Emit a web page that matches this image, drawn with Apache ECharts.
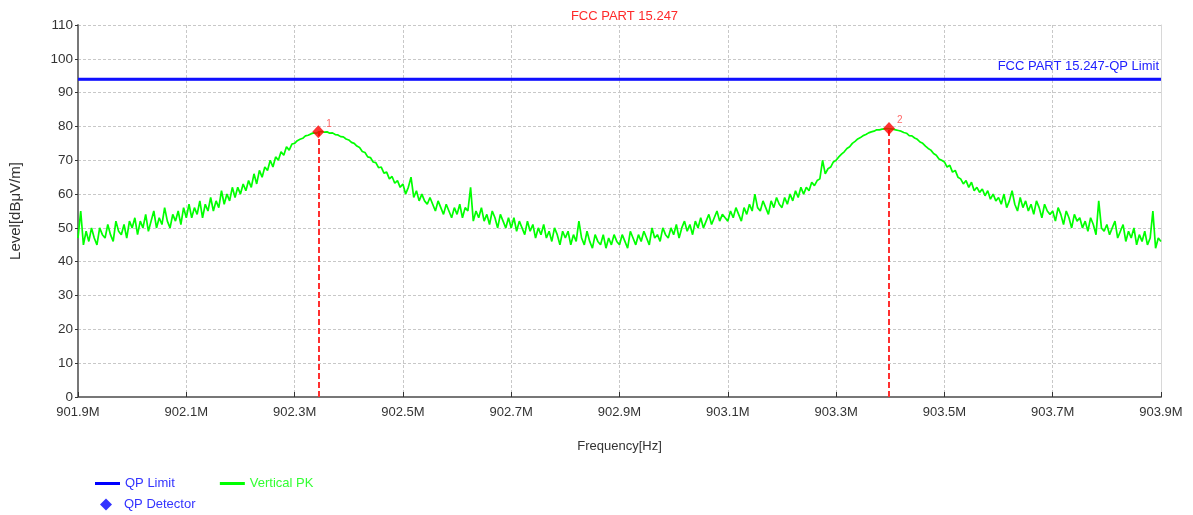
<!DOCTYPE html>
<html>
<head>
<meta charset="utf-8">
<script src="https://cdn.jsdelivr.net/npm/echarts@6/dist/echarts.min.js"></script>
<style>
html, body { margin: 0; padding: 0; background: #fff; }
#chart { width: 1193px; height: 515px; }
</style>
</head>
<body>
<div id="chart"></div>
<script>
// sweep: 901.9 MHz .. 903.9 MHz, one reading every 5 kHz
var startMHz = 901.9;
var stepKHz = 5;
var spanKHz = 2000;

// Vertical PK trace (dBuV/m)
var levelPK = [
  47, 55, 45, 49, 46, 50, 47, 45, 50, 48, 47, 51, 48, 46, 52, 49, 48, 51, 47, 52,
  50, 53, 48, 52, 50, 54, 49, 52, 55, 50, 53, 51, 56, 52, 50, 54, 52, 55, 51, 56,
  53, 57, 53, 56, 54, 58, 53, 57, 55, 59, 55, 58, 56, 61, 57, 60, 58, 62, 59, 62,
  60, 63, 61, 64, 62, 66, 63, 67, 65, 68, 67, 70, 68, 71, 70, 72.5, 71.5, 74, 73, 74.8,
  75, 75.8, 76.2, 76.5, 77.2, 77.4, 77.8, 78.1, 78, 78.4, 78.5, 78.3, 78.4, 78, 78.1, 77.6, 77.5, 77, 76.9, 76.3,
  76, 75.3, 75, 74.2, 73.8, 72.6, 72.3, 71, 70.8, 69.5, 69.3, 67.8, 68, 66.2, 66.5, 64.5, 65.2, 63.2, 64, 62,
  63, 60, 62, 65, 59, 61, 58, 60, 58, 57, 59, 57, 55, 58, 56, 54, 57, 55, 53, 56,
  54, 57, 53, 56, 55, 62, 52, 55, 53, 56, 52, 54, 51, 55, 53, 50, 54, 52, 50, 53,
  50, 53, 49, 52, 50, 48, 52, 49, 51, 47, 50, 48, 51, 47, 49, 46, 50, 48, 45, 49,
  47, 49, 45, 48, 46, 52, 47, 45, 49, 46, 44, 48, 46, 45, 48, 44, 47, 45, 48, 46,
  45, 48, 46, 44, 49, 47, 45, 48, 46, 49, 47, 45, 50, 47, 48, 46, 50, 48, 47, 50,
  48, 51, 47, 50, 52, 49, 51, 48, 52, 50, 53, 50, 52, 54, 51, 53, 55, 52, 54, 53,
  52, 55, 53, 56, 54, 52, 56, 54, 57, 55, 60, 56, 55, 58, 56, 54, 58, 56, 59, 57,
  56, 59, 57, 60, 58, 61, 59, 62, 60, 62, 61, 63.5, 62.5, 64, 64.5, 70, 66, 67.5, 68, 69.5,
  70, 71, 71.8, 72.5, 73.5, 74, 75, 75.6, 76.3, 76.7, 77.3, 77.6, 78.1, 78.4, 78.6, 79, 79, 79.2, 79.3, 79.4,
  79.3, 79.2, 79, 78.8, 78.6, 78.2, 78, 77.3, 77.2, 76.6, 76.2, 75.4, 75, 74.2, 73.5, 73, 72, 71.5, 70.4, 70,
  69.5, 68, 68.5, 66.5, 67, 65, 64.5, 63, 64, 62, 63.5, 61, 62, 60.5, 61.5, 59.5, 61, 58.5, 60, 58,
  59, 57, 60, 56, 58, 61, 57, 55, 59, 56, 58, 55, 57, 54, 58, 56, 53, 57, 55, 54,
  55, 52, 56, 54, 51, 55, 53, 50, 54, 52, 53, 50, 52, 49, 53, 51, 48, 58, 50, 49,
  51, 48, 50, 52, 47, 49, 51, 46, 49, 47, 50, 45, 48, 46, 49, 45, 47, 55, 44, 47,
  46
];

// QP limit
var limitLevel = 94;
var limitText = 'FCC PART 15.247-QP Limit';

// QP detector markers (kHz above 901.9 MHz)
var markerFreqKHz = [443.8, 1497.7];
var markerLevel = [78.4, 79.4];
var markerNames = ['1', '2'];

var yTicks = [0, 110, 10];

var pkData = levelPK.map(function (v, i) { return [i * stepKHz, v]; });
var limitData = [[0, limitLevel], [spanKHz, limitLevel]];
var markerData = markerFreqKHz.map(function (f, i) {
  return {value: [f, markerLevel[i]], name: markerNames[i]};
});

var font = 'Liberation Sans, Arial, sans-serif';
var chart = echarts.init(document.getElementById('chart'));

var option = {
  animation: false,
  backgroundColor: '#fff',
  textStyle: {fontFamily: font},
  title: {
    text: 'FCC PART 15.247',
    left: 619.5,
    textAlign: 'center',
    top: 5,
    textStyle: {color: '#ff2a2a', fontSize: 13, fontWeight: 'normal', fontFamily: font}
  },
  grid: {left: 78, right: 32, top: 25, bottom: 118},
  legend: [{
    left: 95, top: 477, padding: 0,
    itemWidth: 25, itemHeight: 3, itemGap: 45,
    textStyle: {fontSize: 13, fontFamily: font},
    data: [
      {name: 'QP Limit', icon: 'rect', itemStyle: {color: '#0000ff'}, textStyle: {color: '#3333ff'}},
      {name: 'Vertical PK', icon: 'rect', itemStyle: {color: '#00ff00'}, textStyle: {color: '#33ff33'}}
    ]
  }, {
    left: 100, top: 498, padding: 0,
    itemWidth: 12, itemHeight: 12,
    textStyle: {fontSize: 13, fontFamily: font, padding: [0, 0, 0, 7]},
    data: [
      {name: 'QP Detector', icon: 'diamond', itemStyle: {color: '#0000ff'}, textStyle: {color: '#3333ff'}}
    ]
  }],
  xAxis: {
    type: 'value',
    min: 0, max: spanKHz, interval: 200,
    name: 'Frequency[Hz]',
    nameLocation: 'middle',
    nameGap: 43,
    nameTextStyle: {color: '#333', fontSize: 13},
    axisLine: {lineStyle: {color: '#777', width: 2}},
    axisTick: {inside: true, length: 5, lineStyle: {color: '#333'}},
    axisLabel: {
      color: '#333', fontSize: 13, margin: 9,
      formatter: function (v) { return (startMHz + v / 1000).toFixed(1) + 'M'; }
    },
    splitLine: {show: true, lineStyle: {type: [3, 2], color: '#c8c8c8'}}
  },
  yAxis: [{
    type: 'value',
    min: yTicks[0], max: yTicks[1], interval: yTicks[2],
    name: 'Level[dBμV/m]',
    nameLocation: 'middle',
    nameGap: 55,
    nameTextStyle: {color: '#333', fontSize: 15},
    axisLine: {show: true, lineStyle: {color: '#777', width: 2}},
    axisTick: {show: true, length: 3, lineStyle: {color: '#333'}},
    axisLabel: {color: '#333', fontSize: 13.5, margin: 5},
    splitLine: {show: true, lineStyle: {type: [3, 2], color: '#c8c8c8'}}
  }, {
    type: 'value',
    position: 'right',
    min: yTicks[0], max: yTicks[1], interval: yTicks[2],
    axisLine: {show: true, lineStyle: {color: '#d8d8d8', width: 1}},
    axisTick: {show: false},
    axisLabel: {show: false},
    splitLine: {show: false}
  }],
  series: [{
    name: 'Vertical PK',
    type: 'line',
    data: pkData,
    showSymbol: false,
    symbol: 'none',
    sampling: null,
    lineStyle: {color: '#00ff00', width: 1.7},
    itemStyle: {color: '#00ff00'},
    z: 3
  }, {
    name: 'QP Limit',
    type: 'line',
    data: limitData,
    showSymbol: false,
    symbol: 'none',
    lineStyle: {color: '#1010ff', width: 2.5},
    itemStyle: {color: '#0000ff'},
    markLine: {
      silent: true,
      symbol: ['none', 'none'],
      lineStyle: {color: '#1010ff', width: 2.5, type: 'solid'},
      label: {
        show: true,
        position: 'insideEndTop',
        distance: [2, 6],
        color: '#2020ff',
        fontSize: 13,
        fontFamily: font,
        formatter: limitText
      },
      data: [{yAxis: limitLevel}]
    },
    z: 4
  }, {
    name: 'QP Detector',
    type: 'scatter',
    data: markerData,
    symbol: 'diamond',
    symbolSize: [12, 13],
    itemStyle: {color: '#ff0000'},
    label: {
      show: true,
      position: 'right',
      offset: [-3, -8],
      color: '#ff4040',
      fontSize: 10,
      fontFamily: font,
      formatter: function (p) { return p.name; }
    },
    markLine: {
      silent: true,
      symbol: ['none', 'none'],
      label: {show: false},
      lineStyle: {color: '#ff3030', type: [6, 3], width: 2},
      data: markerFreqKHz.map(function (f, i) {
        return [{coord: [f, 0]}, {coord: [f, markerLevel[i]]}];
      })
    },
    z: 6
  }]
};

chart.setOption(option);
</script>
</body>
</html>
